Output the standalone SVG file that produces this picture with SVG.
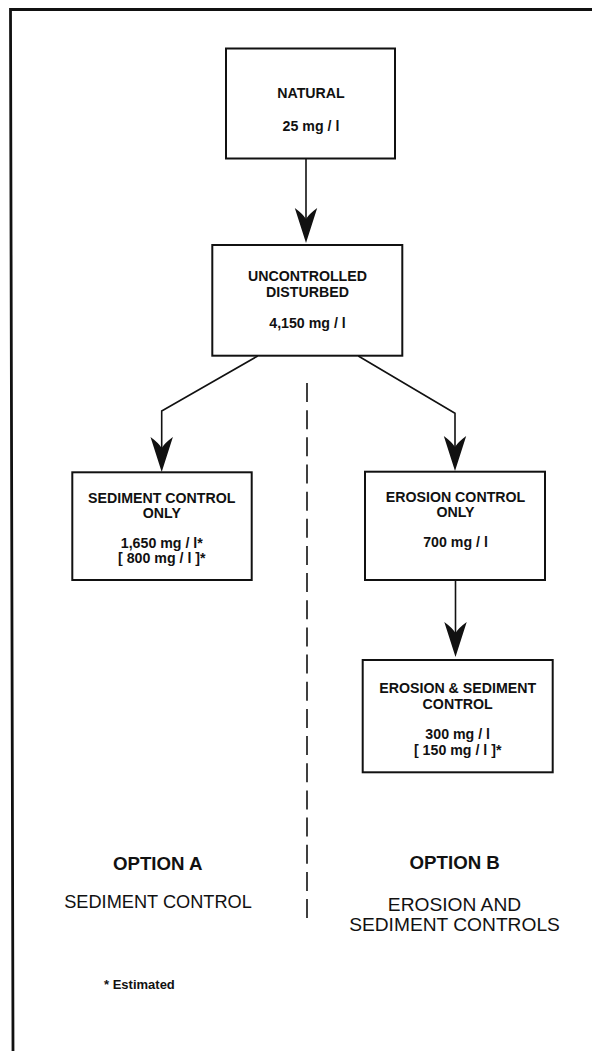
<svg xmlns="http://www.w3.org/2000/svg" width="592" height="1051" viewBox="0 0 592 1051">
<style>
.box{fill:#fff;stroke:#111;stroke-width:2}
.bt{font-family:"Liberation Sans",Arial,sans-serif;font-weight:bold;font-size:14.2px;fill:#111;text-anchor:middle}
.conn{fill:none;stroke:#111;stroke-width:1.6}
.frame{fill:none;stroke:#111;stroke-width:2.8}
.opt{font-family:"Liberation Sans",Arial,sans-serif;font-weight:bold;font-size:18.7px;fill:#111;text-anchor:middle}
.sub{font-family:"Liberation Sans",Arial,sans-serif;font-size:18.5px;fill:#111;text-anchor:middle}
.note{font-family:"Liberation Sans",Arial,sans-serif;font-weight:bold;font-size:13px;fill:#111}
</style>
<defs>
<marker id="arr" markerUnits="userSpaceOnUse" viewBox="-20 -13 44 26" markerWidth="44" markerHeight="26" refX="0" refY="0" orient="auto">
<path d="M20,0 L-15,-11.2 Q-9,-3 -4,0 Q-9,3 -15,11.2 Z" fill="#111"/>
</marker>
</defs>
<g id="frame">
<path class="frame" d="M592,9.5 L10.5,9.5 L13,1051"/>
</g>
<g id="connectors">
<line class="conn" x1="306" y1="158.5" x2="306" y2="223" marker-end="url(#arr)"/>
<path class="conn" d="M257.7,356 L161.7,411 L161.7,452" marker-end="url(#arr)"/>
<path class="conn" d="M358.3,356 L455,413.3 L455,451" marker-end="url(#arr)"/>
<line class="conn" x1="455.5" y1="580" x2="455.5" y2="637" marker-end="url(#arr)"/>
<line class="conn" x1="307" y1="383" x2="307" y2="918" stroke-dasharray="19 8.16"/>
</g>
<g id="natural">
<rect class="box" x="226" y="48.5" width="169" height="110"/>
<text class="bt" x="311" y="98">NATURAL</text>
<text class="bt" x="311" y="130.7">25 mg / l</text>
</g>
<g id="uncontrolled">
<rect class="box" x="212.3" y="245" width="190" height="110.7"/>
<text class="bt" x="307.5" y="280.7">UNCONTROLLED</text>
<text class="bt" x="307.5" y="296.7">DISTURBED</text>
<text class="bt" x="307.5" y="328.3">4,150 mg / l</text>
</g>
<g id="sediment-only">
<rect class="box" x="72.3" y="472.3" width="179.4" height="107.7"/>
<text class="bt" x="161.8" y="503.3">SEDIMENT CONTROL</text>
<text class="bt" x="161.8" y="517.7">ONLY</text>
<text class="bt" x="161.8" y="548.3">1,650 mg / l*</text>
<text class="bt" x="161.8" y="563.3">[ 800 mg / l ]*</text>
</g>
<g id="erosion-only">
<rect class="box" x="365" y="471.7" width="180" height="108.3"/>
<text class="bt" x="455.5" y="501.7">EROSION CONTROL</text>
<text class="bt" x="455.5" y="516.7">ONLY</text>
<text class="bt" x="455.5" y="547.3">700 mg / l</text>
</g>
<g id="erosion-sediment">
<rect class="box" x="362.7" y="660" width="190" height="112.3"/>
<text class="bt" x="457.7" y="693.3">EROSION &amp; SEDIMENT</text>
<text class="bt" x="457.7" y="709">CONTROL</text>
<text class="bt" x="457.7" y="739">300 mg / l</text>
<text class="bt" x="457.7" y="755">[ 150 mg / l ]*</text>
</g>
<g id="option-a">
<text class="opt" x="157.7" y="869.5">OPTION A</text>
<text class="sub" x="158" y="908.3" style="font-size:18.2px">SEDIMENT CONTROL</text>
</g>
<g id="option-b">
<text class="opt" x="454.7" y="868.5">OPTION B</text>
<text class="sub" x="454.5" y="910.7" style="font-size:19.2px">EROSION AND</text>
<text class="sub" x="454.5" y="931" style="font-size:19.2px">SEDIMENT CONTROLS</text>
</g>
<g id="footnote">
<text class="note" x="104" y="989">* Estimated</text>
</g>
</svg>
